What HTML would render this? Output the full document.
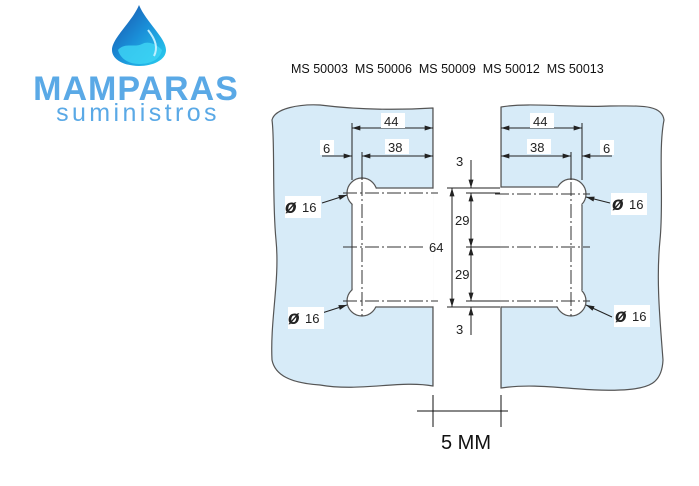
<!DOCTYPE html>
<html><head><meta charset="utf-8"><style>
html,body{margin:0;padding:0;background:#fff;width:699px;height:486px;overflow:hidden}
svg{display:block}
text{font-family:"Liberation Sans",sans-serif}
</style></head><body>
<svg width="699" height="486" viewBox="0 0 699 486" xmlns="http://www.w3.org/2000/svg">
<defs>
<marker id="a" viewBox="0 0 10 6" refX="10" refY="3" markerWidth="9" markerHeight="5" orient="auto-start-reverse" markerUnits="userSpaceOnUse"><path d="M0,0L10,3L0,6z" fill="#222"/></marker>
<linearGradient id="dg" x1="0" y1="0" x2="1" y2="1"><stop offset="0" stop-color="#1b4fa8"/><stop offset="0.5" stop-color="#1a8fd8"/><stop offset="1" stop-color="#2ad0f0"/></linearGradient>
</defs>
<!-- logo -->
<path d="M139,5 C132,22 112,38 112,50 C112,60 125,66 139,66 C153,66 166,60 166,50 C166,38 146,22 139,5z" fill="url(#dg)"/>
<path d="M118,50 C125,42 135,48 142,44 C150,40 158,46 162,50 C160,60 150,64 139,64 C128,64 120,58 118,50z" fill="#3fd6f5" opacity="0.8"/>
<path d="M148,30 C156,40 158,48 154,56" stroke="#bfefff" stroke-width="2" fill="none"/>
<text x="136" y="100" text-anchor="middle" font-size="34" font-weight="bold" fill="#5aa9e6" letter-spacing="1">MAMPARAS</text>
<text x="138" y="121" text-anchor="middle" font-size="25" fill="#5aa9e6" letter-spacing="3.4">suministros</text>
<text x="291" y="73" font-size="12.5" fill="#111" xml:space="preserve" style="white-space:pre">MS 50003  MS 50006  MS 50009  MS 50012  MS 50013</text>
<!-- left panel -->
<path d="M433,108 L433,386 C400,380 360,392 320,385 C290,383 275,375 272,360 C270,320 280,280 276,240 C272,200 275,140 272,120 C275,108 300,104 320,105 C360,110 400,110 433,108z" fill="#d7ebf8" stroke="#555" stroke-width="1.2"/>
<!-- right panel -->
<path d="M501,107 L501,388 C540,382 580,392 620,390 C650,389 662,383 663,360 C660,320 656,280 660,240 C664,200 658,150 664,120 C662,104 640,106 610,106 C570,108 530,102 501,107z" fill="#d7ebf8" stroke="#555" stroke-width="1.2"/>
<circle cx="362" cy="193" r="15" fill="#fff" stroke="#555" stroke-width="1.2"/>
<circle cx="362" cy="301" r="15" fill="#fff" stroke="#555" stroke-width="1.2"/>
<circle cx="571" cy="194" r="15" fill="#fff" stroke="#555" stroke-width="1.2"/>
<circle cx="571" cy="301" r="15" fill="#fff" stroke="#555" stroke-width="1.2"/>
<rect x="352.6" y="188.6" width="81" height="117.8" fill="#fff"/>
<rect x="500.4" y="187.6" width="81" height="118.8" fill="#fff"/>
<rect x="433.6" y="100" width="66.8" height="300" fill="#fff"/>
<path d="M352,204 L352,290 M376,188 L433,188 L433,108 M376,307 L433,307 L433,386 M557,187 L501,187 L501,107 M557,307 L501,307 L501,388 M582,205 L582,290" stroke="#555" stroke-width="1.2" fill="none"/>
<!-- center lines -->
<g stroke="#333" stroke-width="1" stroke-dasharray="14,3,2,3" fill="none">
<path d="M343,193 L438,193 M343,247 L438,247 M343,301 L438,301"/>
<path d="M495,194 L590,194 M495,247 L590,247 M495,301 L590,301"/>
<path d="M362,182 L362,316 M571,182 L571,316"/>
</g>
<g stroke="#222" stroke-width="1" fill="none">
<path d="M352,123 L352,180 M362,152 L362,180"/>
<path d="M352,128 L433,128" marker-start="url(#a)" marker-end="url(#a)"/>
<path d="M362,156 L433,156" marker-start="url(#a)" marker-end="url(#a)"/>
<path d="M322,156 L352,156" marker-end="url(#a)"/>
<path d="M582,123 L582,180 M571,152 L571,180"/>
<path d="M501,128 L582,128" marker-start="url(#a)" marker-end="url(#a)"/>
<path d="M501,156 L571,156" marker-start="url(#a)" marker-end="url(#a)"/>
<path d="M612,156 L582,156" marker-end="url(#a)"/>
<path d="M447,188 L500,188 M447,307 L500,307 M466,193 L500,193 M466,247 L500,247 M466,301 L500,301"/>
<path d="M452,188 L452,307" marker-start="url(#a)" marker-end="url(#a)"/>
<path d="M471,193 L471,247" marker-start="url(#a)" marker-end="url(#a)"/>
<path d="M471,247 L471,301" marker-start="url(#a)" marker-end="url(#a)"/>
<path d="M471,160 L471,188" marker-end="url(#a)"/>
<path d="M471,335 L471,307" marker-end="url(#a)"/>
<path d="M322,203 L347,195" marker-end="url(#a)"/>
<path d="M322,313 L347,305" marker-end="url(#a)"/>
<path d="M610,203 L586,197" marker-end="url(#a)"/>
<path d="M612,317 L586,305" marker-end="url(#a)"/>
<path d="M433,395 L433,427 M501,395 L501,427 M417,411 L508,411" stroke="#111"/>
</g>
<g font-size="13" fill="#222">
<rect x="381" y="113" width="24" height="15" fill="#fff"/><text x="384" y="126">44</text>
<rect x="385" y="139" width="24" height="15" fill="#fff"/><text x="388" y="152">38</text>
<rect x="320" y="140" width="14" height="15" fill="#fff"/><text x="323" y="153">6</text>
<rect x="530" y="113" width="24" height="15" fill="#fff"/><text x="533" y="126">44</text>
<rect x="527" y="139" width="24" height="15" fill="#fff"/><text x="530" y="152">38</text>
<rect x="600" y="140" width="14" height="15" fill="#fff"/><text x="603" y="153">6</text>
<text x="456" y="166">3</text>
<text x="456" y="334">3</text>
<text x="455" y="225">29</text>
<text x="455" y="279">29</text>
<rect x="426" y="240" width="20" height="14" fill="#fff"/><text x="429" y="252">64</text>
<rect x="285" y="196" width="36" height="22" fill="#fff"/><text x="285" y="213" font-size="19" font-style="italic" font-weight="bold">ø</text><text x="302" y="212">16</text>
<rect x="288" y="307" width="36" height="22" fill="#fff"/><text x="288" y="324" font-size="19" font-style="italic" font-weight="bold">ø</text><text x="305" y="323">16</text>
<rect x="611" y="193" width="36" height="22" fill="#fff"/><text x="612" y="210" font-size="19" font-style="italic" font-weight="bold">ø</text><text x="629" y="209">16</text>
<rect x="614" y="305" width="36" height="22" fill="#fff"/><text x="615" y="322" font-size="19" font-style="italic" font-weight="bold">ø</text><text x="632" y="321">16</text>
</g>
<text x="466" y="449" text-anchor="middle" font-size="20" fill="#111">5 MM</text>
</svg>
</body></html>
